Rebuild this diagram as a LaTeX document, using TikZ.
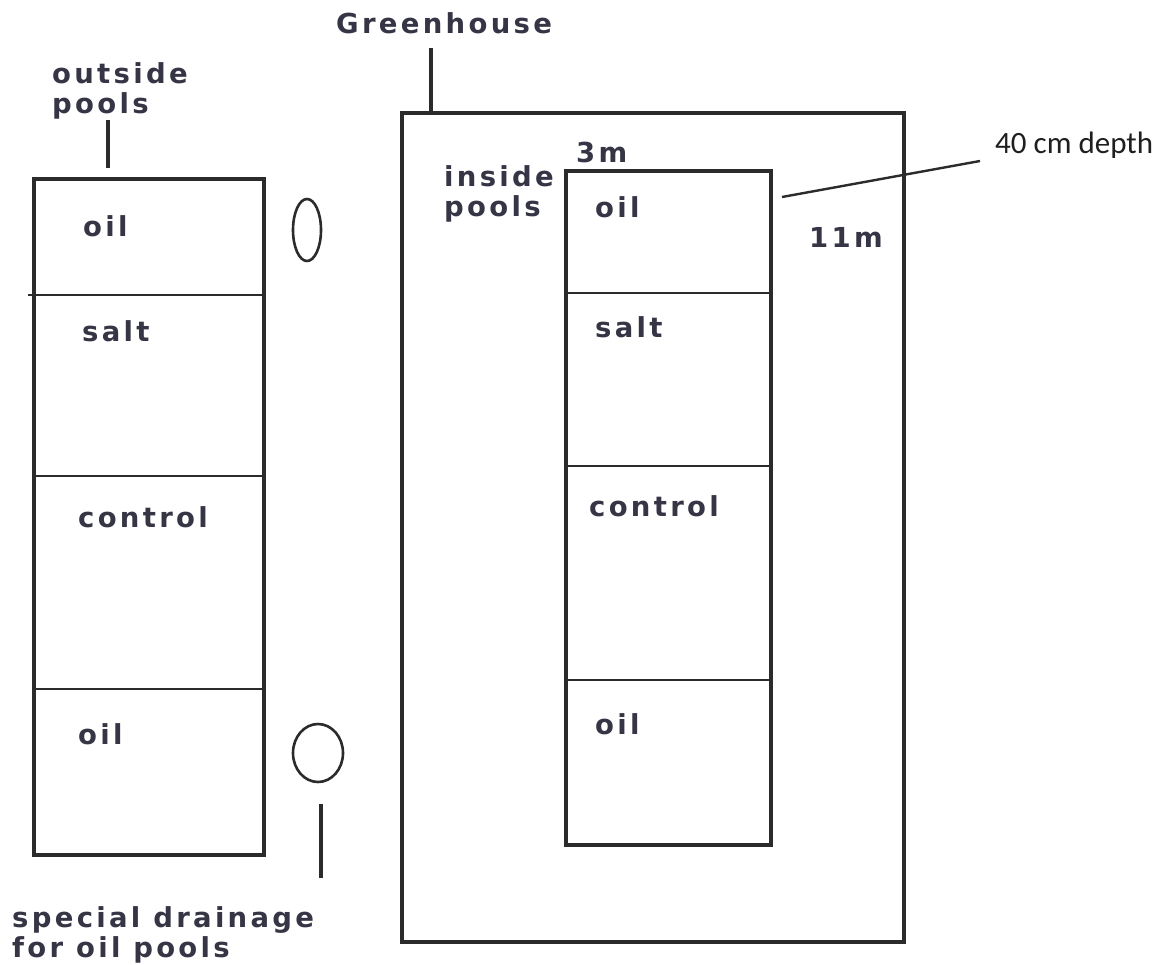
\documentclass[tikz,border=0pt]{standalone}
\usepackage{fontspec}
\usetikzlibrary{shapes.geometric}
\setmainfont{DejaVu Sans}
\newfontfamily\labfont[LetterSpace=12]{DejaVu Sans Bold}
\newfontfamily\calfont{Carlito}
\definecolor{ink}{HTML}{2B2B2B}
\definecolor{txt}{HTML}{353545}
\begin{document}
\begin{tikzpicture}[x=1pt,y=-1pt,
  box/.style={draw=ink,line width=3.2pt,inner sep=0pt,outer sep=0pt,anchor=north west},
  divider/.style={draw=ink,line width=2.6pt},
  tick/.style={draw=ink,line width=3.2pt},
  lab/.style={font=\labfont\fontsize{27.5}{29.5}\selectfont,text=txt,inner sep=0pt,anchor=base west,align=left},
  note/.style={font=\calfont\fontsize{31}{34}\selectfont,text=black!88,inner sep=0pt,anchor=base west},
  drain/.style={draw=ink,line width=2.6pt,ellipse,inner sep=0pt}]
\useasboundingbox (0,0) rectangle (1158,964);
\fill[white] (0,0) rectangle (1158,964);
% greenhouse
\node[box,minimum width=502pt,minimum height=829pt] (gh) at (402,113) {};
\node[lab] (ghlab) at (336,33) {Greenhouse};
\coordinate (ghtick) at (431,48);
\draw[tick] (ghtick) -- (ghtick |- gh.north);
% outside pools
\node[box,minimum width=230pt,minimum height=676pt] (op) at (34,179) {};
\draw[divider] (28,295) -- (op.east |- 0,295);
\draw[divider] (op.west |- 0,476) -- (op.east |- 0,476);
\draw[divider] (op.west |- 0,689) -- (op.east |- 0,689);
\node[lab] (oplab) at (52,113) {outside\\pools};
\coordinate (optop) at (108,120);
\coordinate (opbot) at (108,168);
\draw[tick] (optop) -- (opbot);
\node[lab] (o1) at (83,236) {oil};
\node[lab] (o2) at (82,341) {salt};
\node[lab] (o3) at (78,527) {control};
\node[lab] (o4) at (78,744) {oil};
% drainage
\node[drain,minimum width=28pt,minimum height=62pt] (d1) at (307,230) {};
\node[drain,minimum width=50pt,minimum height=58pt] (d2) at (318,753) {};
\coordinate (dtop) at (321,804);
\coordinate (dbot) at (321,878);
\draw[tick] (dtop) -- (dbot);
\node[lab] (dlab) at (12,957) {special drainage\\for oil pools};
% inside pools
\node[box,minimum width=205pt,minimum height=674pt] (ip) at (566,171) {};
\draw[divider] (ip.west |- 0,293) -- (ip.east |- 0,293);
\draw[divider] (ip.west |- 0,466) -- (ip.east |- 0,466);
\draw[divider] (ip.west |- 0,680) -- (ip.east |- 0,680);
\node[lab] (iplab) at (444,216) {inside\\pools};
\node[lab] (w) at (576,162) {3m};
\node[lab] (h) at (809,247) {11m};
\node[lab] (i1) at (595,217) {oil};
\node[lab] (i2) at (595,337) {salt};
\node[lab] (i3) at (589,516) {control};
\node[lab] (i4) at (595,734) {oil};
% depth
\node[note] (dep) at (995,153) {40 cm depth};
\coordinate (depA) at (782,197);
\coordinate (depB) at (980,161);
\draw[draw=ink,line width=2.4pt] (depA) -- (depB);
\end{tikzpicture}
\end{document}
